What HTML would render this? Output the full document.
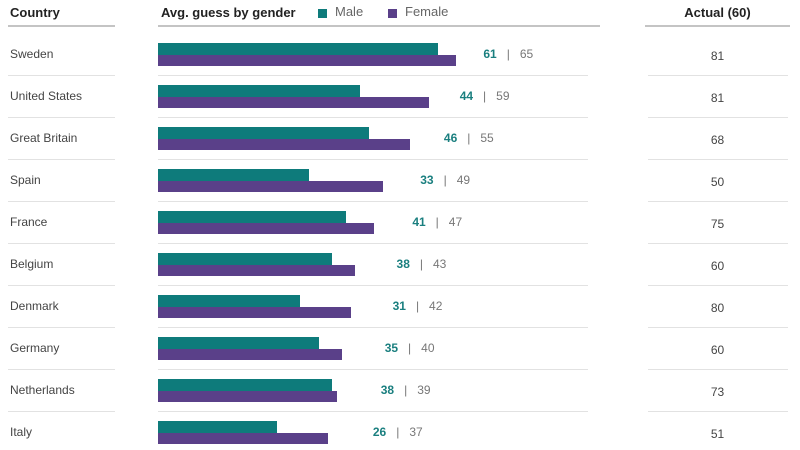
<!DOCTYPE html>
<html><head><meta charset="utf-8"><style>
body{margin:0;width:800px;height:450px;background:#fff;position:relative;overflow:hidden;font-family:"Liberation Sans",sans-serif;}
div{position:absolute;}
.h{font-weight:bold;font-size:13px;color:#222;top:5px;}
.hl{height:2px;background:#c4c4c4;top:25px;}
.c{left:10px;font-size:12px;color:#444;}
.sep{height:1px;background:#e2e2e2;}
.m{background:#0e7b7b;left:158px;height:12px;}
.f{background:#5a4089;left:158px;height:11px;}
.v{font-size:12px;color:#777;white-space:pre;}
.v b{color:#1a7f7f;}
.a{left:645px;width:145px;text-align:center;font-size:12px;color:#444;}
</style></head><body>
<div class="h" style="left:10px">Country</div>
<div class="h" style="left:161px">Avg. guess by gender</div>
<div style="left:318px;top:9px;width:9px;height:9px;background:#0e7b7b"></div>
<div style="left:335px;top:4px;font-size:13px;color:#666">Male</div>
<div style="left:388px;top:9px;width:9px;height:9px;background:#5a4089"></div>
<div style="left:405px;top:4px;font-size:13px;color:#666">Female</div>
<div class="h" style="left:645px;width:145px;text-align:center">Actual (60)</div>
<div class="hl" style="left:8px;width:107px"></div>
<div class="hl" style="left:158px;width:442px"></div>
<div class="hl" style="left:645px;width:145px"></div>
<div id="rows"></div>
<script>
var d=[["Sweden",61,65,81],["United States",44,59,81],["Great Britain",46,55,68],["Spain",33,49,50],["France",41,47,75],["Belgium",38,43,60],["Denmark",31,42,80],["Germany",35,40,60],["Netherlands",38,39,73],["Italy",26,37,51]];
var h="",k=4.59;
d.forEach(function(r,i){var c=55+42*i;
h+='<div class="c" style="top:'+(c-8)+'px">'+r[0]+'</div>';
h+='<div class="m" style="top:'+(c-12)+'px;width:'+(r[1]*k)+'px"></div>';
h+='<div class="f" style="top:'+c+'px;width:'+(r[2]*k)+'px"></div>';
var fe=158+r[2]*k,lx=373+0.86*(fe-328);
h+='<div class="v" style="top:'+(c-8)+'px;left:'+lx+'px"><b>'+r[1]+'</b>   |   '+r[2]+'</div>';
h+='<div class="a" style="top:'+(c-6)+'px">'+r[3]+'</div>';
if(i<9){h+='<div class="sep" style="top:'+(c+20)+'px;left:8px;width:107px"></div><div class="sep" style="top:'+(c+20)+'px;left:158px;width:430px"></div><div class="sep" style="top:'+(c+20)+'px;left:648px;width:140px"></div>';}
});
document.getElementById("rows").outerHTML=h;
</script>
</body></html>
